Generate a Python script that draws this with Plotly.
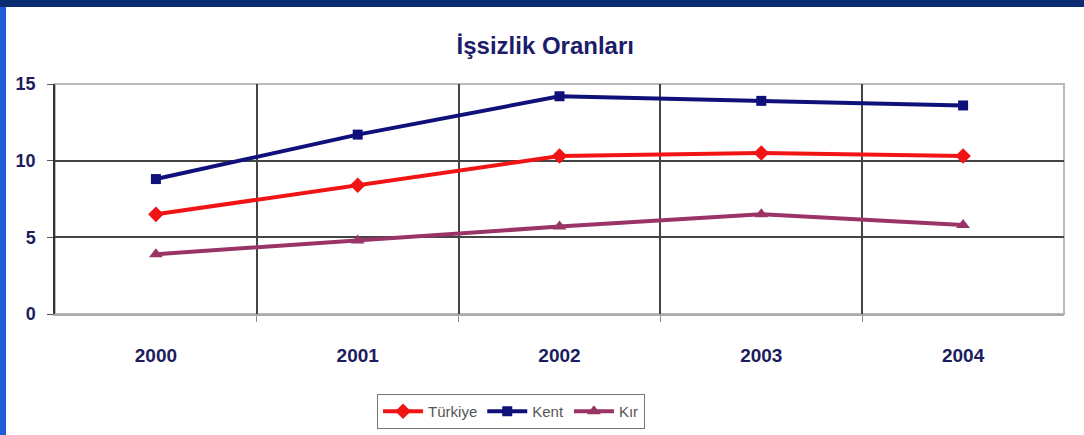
import plotly.graph_objects as go

years = ["2000", "2001", "2002", "2003", "2004"]
turkiye = [6.5, 8.4, 10.3, 10.5, 10.3]
kent = [8.8, 11.7, 14.2, 13.9, 13.6]
kir = [3.9, 4.8, 5.7, 6.5, 5.8]

xpos = list(range(len(years)))
boundaries = [i + 0.5 for i in range(len(years) - 1)]

fig = go.Figure()
fig.add_trace(go.Scatter(x=xpos, y=turkiye, name="Türkiye", mode="lines+markers",
                         line=dict(color="#f01414", width=4),
                         marker=dict(symbol="diamond", size=12, color="#f01414")))
fig.add_trace(go.Scatter(x=xpos, y=kent, name="Kent", mode="lines+markers",
                         line=dict(color="#10107a", width=4),
                         marker=dict(symbol="square", size=10, color="#10107a")))
fig.add_trace(go.Scatter(x=xpos, y=kir, name="Kır", mode="lines+markers",
                         line=dict(color="#9a3366", width=4),
                         marker=dict(symbol="triangle-up", size=12, color="#9a3366")))

fig.update_layout(
    width=1084, height=435,
    margin=dict(l=55, r=20, t=84, b=121, autoexpand=False),
    paper_bgcolor="white", plot_bgcolor="white",
    title=dict(text="<b>İşsizlik Oranları</b>", x=0.503, xanchor="center",
               y=1 - 46 / 435, yanchor="middle",
               font=dict(family="Liberation Sans, Arial", size=24, color="#1c1c6a")),
    showlegend=True,
    legend=dict(orientation="h", x=0.452, xanchor="center",
                yref="container", y=1 - 394 / 435, yanchor="top",
                bordercolor="#777", borderwidth=1, bgcolor="white",
                font=dict(family="Liberation Sans, Arial", size=15, color="#555"),
                itemwidth=40, tracegroupgap=0),
    xaxis=dict(range=[-0.5, 4.5], tickvals=xpos, ticktext=years, ticks="",
               showgrid=False, zeroline=False, showline=True, linecolor="#aaa", linewidth=2,
               ticklabelstandoff=23,
               tickfont=dict(family="Liberation Sans, Arial", size=19, color="#1c1c5e"),
               minor=dict(tickvals=boundaries, showgrid=True, gridcolor="#444", gridwidth=1.5,
                          ticks="outside", ticklen=6, tickcolor="#888")),
    yaxis=dict(range=[0, 15], tickvals=[0, 5, 10, 15], ticks="outside", ticklen=6,
               tickcolor="#555", showgrid=False, zeroline=False,
               showline=True, linecolor="#333", linewidth=1.5,
               ticklabelstandoff=8,
               tickfont=dict(family="Liberation Sans, Arial", size=18, color="#1c1c5e"),
               minor=dict(tickvals=[5, 10], showgrid=True, gridcolor="#444", gridwidth=1.5)),
)
fig.update_xaxes(tickfont=dict(weight="bold"))
fig.update_yaxes(tickfont=dict(weight="bold"))

# plot frame (light gray top / right)
fig.add_shape(type="rect", xref="paper", yref="paper", x0=0, x1=1, y0=0, y1=1,
              line=dict(color="#bbb", width=2), layer="below")
# decorative blue slide frame
fig.add_shape(type="rect", xref="paper", yref="paper",
              x0=-55 / 1009, x1=-49 / 1009, y0=-121 / 230, y1=314 / 230,
              line=dict(width=0), fillcolor="#1c5cd6", layer="above")
fig.add_shape(type="rect", xref="paper", yref="paper",
              x0=-55 / 1009, x1=1 + 20 / 1009, y0=(314 - 7) / 230, y1=314 / 230,
              line=dict(width=0), fillcolor="#0c2c72", layer="above")

fig.write_html("out.html", config={"displayModeBar": False},
               post_script="document.body.style.margin='0';document.body.style.overflow='hidden';")
